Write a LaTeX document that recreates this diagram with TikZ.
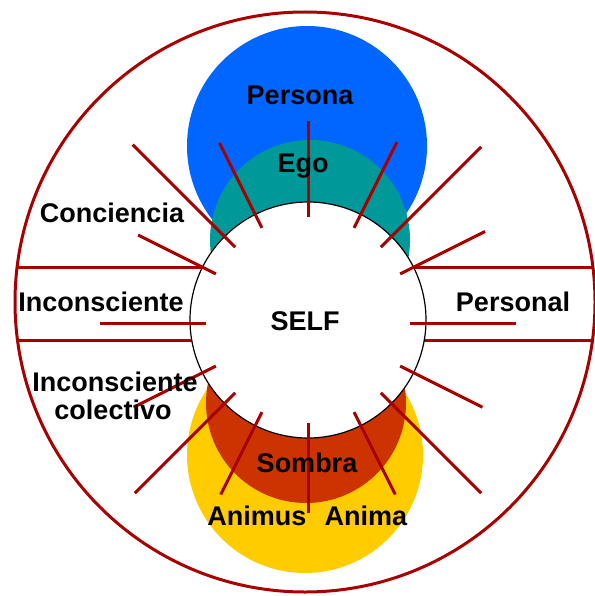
\documentclass[tikz,border=0pt]{standalone}
\usepackage{fontspec}
\setmainfont{Liberation Sans}
\usepackage{xcolor}
\usepackage{tikz}
\usetikzlibrary{positioning, calc}
\definecolor{rayred}{HTML}{A80000}
\definecolor{personablue}{HTML}{0066FF}
\definecolor{egoteal}{HTML}{009999}
\definecolor{sombrared}{HTML}{CC3300}
\definecolor{animayellow}{HTML}{FFCC00}

\begin{document}
\begin{tikzpicture}[
    x=1pt, y=-1pt,
    label/.style={font=\bfseries\fontsize{27}{29}\selectfont, inner sep=0pt, anchor=base},
    ray/.style={rayred, line width=3pt},
  ]
  \useasboundingbox (0,0) rectangle (594,596);
  \coordinate (self) at (308,320);
  \coordinate (selfmid) at (308,323);
  \coordinate (world) at (305,302);

  % Regions
  \fill[personablue] (307,146) circle[radius=120];
  \fill[egoteal] (310,240) circle[radius=100];
  \fill[animayellow] (305,455) circle[radius=118];
  \fill[sombrared] (306,403) circle[radius=100];
  \begin{scope}
    \clip (world) circle[radius=290];
    \draw[ray] (0,267) -- (594,267);
    \draw[ray] (0,340) -- (594,340);
  \end{scope}
  \draw[black, line width=1.2pt, fill=white] (self) circle[radius=118];

  % Rays
  \foreach \ang/\len in {26.57/195, 45/245, 63.43/195, 90/193,
      116.57/195, 135/245, 153.43/195, 206.57/190, 225/248,
      243.43/198, 270/199, 296.57/199, 315/245, 333.43/198}
    \draw[ray, shift={(self)}] (\ang:103) -- (\ang:\len);
  \foreach \ang in {0,180}
    \draw[ray, shift={(selfmid)}] (\ang:102) -- (\ang:208);
  \draw[ray] (world) circle[radius=290];

  % Nodes
  \node[label] (persona) at (300,105) {Persona};
  \node[label] (ego) at (303,172) {Ego};
  \node[label] (conc) at (112,222) {Conciencia};
  \node[label] (incons) at (101,311) {Inconsciente};
  \node[label] (pers) at (513,311) {Personal};
  \node[label] (selftext) at (305,330) {SELF};
  \node[label] (colA) at (115,391) {Inconsciente};
  \node[label] (colB) at (113,419) {colectivo};
  \node[label] (sombra) at (307,472) {Sombra};
  \node[label] (animus) at (257,525) {Animus};
  \node[label] (anima) at (366,525) {Anima};
\end{tikzpicture}
\end{document}
